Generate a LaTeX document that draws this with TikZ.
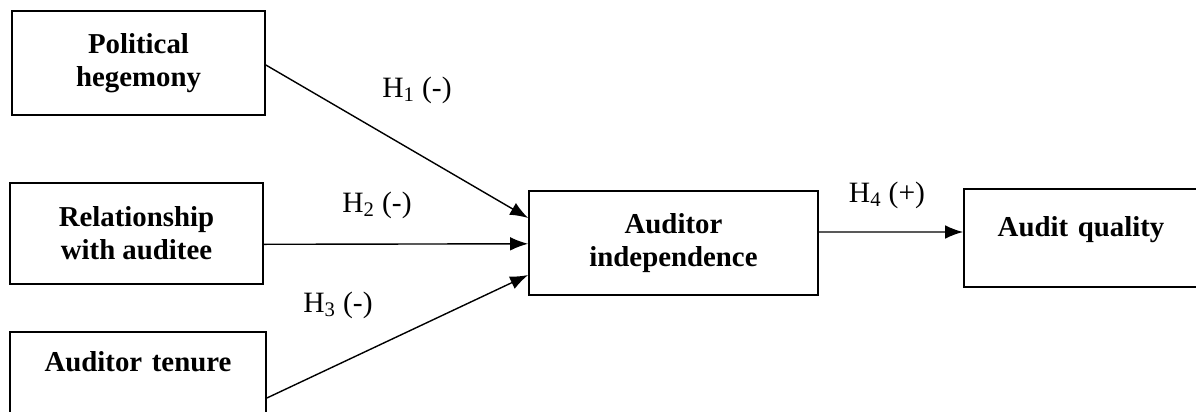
\documentclass[tikz,border=0pt]{standalone}
\usepackage{fontspec}
\setmainfont{Liberation Serif}
\usetikzlibrary{arrows.meta}
\tikzset{
  box/.style={draw, line width=1.2pt, inner sep=0pt, align=center,
    font=\bfseries\fontsize{20.5}{23.5}\selectfont},
  hyp/.style={font=\fontsize{21}{24}\selectfont, inner sep=0pt}
}
\begin{document}
\begin{tikzpicture}[x=0.025cm,y=-0.025cm]
      \useasboundingbox (0,0) rectangle (1196,412);
      \draw
        (138.5,63) node[box, minimum width=6.325cm, minimum height=2.6cm] (pol){Political\\hegemony}
        (136.5,233.5) node[box, minimum width=6.325cm, minimum height=2.525cm] (rel){Relationship\\with auditee}
        (138,384) node[box, minimum width=6.4cm, text height=1.0cm, text depth=1.6cm, text width=6.4cm] (ten){Auditor tenure}
        (673.5,243) node[box, minimum width=7.225cm, minimum height=2.6cm] (ind){Auditor\\independence}
        (1107,238) node[box, minimum width=7.15cm, text height=1.2cm, text depth=1.25cm, text width=7.15cm] (qual){\hspace*{-1.3cm}Audit quality};
      \draw
        (417,90) node[hyp] (h1){H\textsubscript{1} (-)}
        (377,205) node[hyp] (h2){H\textsubscript{2} (-)}
        (338,305) node[hyp] (h3){H\textsubscript{3} (-)}
        (887,195) node[hyp] (h4){H\textsubscript{4} (+)};
      \begin{scope}[line width=1pt, -{Latex[length=0.45cm, width=0.34cm]}]
        \draw ([yshift=-0.05cm]pol.east) to ([yshift=0.625cm]ind.west);
        \draw ([yshift=-0.27cm]rel.east) to ([yshift=-0.02cm]ind.west);
        \draw ([yshift=-0.35cm]ten.east) to ([yshift=-0.8cm]ind.west);
        \draw ([yshift=0.275cm]ind.east) to ([yshift=0.15cm]qual.west);
      \end{scope}
    \end{tikzpicture}
\end{document}
